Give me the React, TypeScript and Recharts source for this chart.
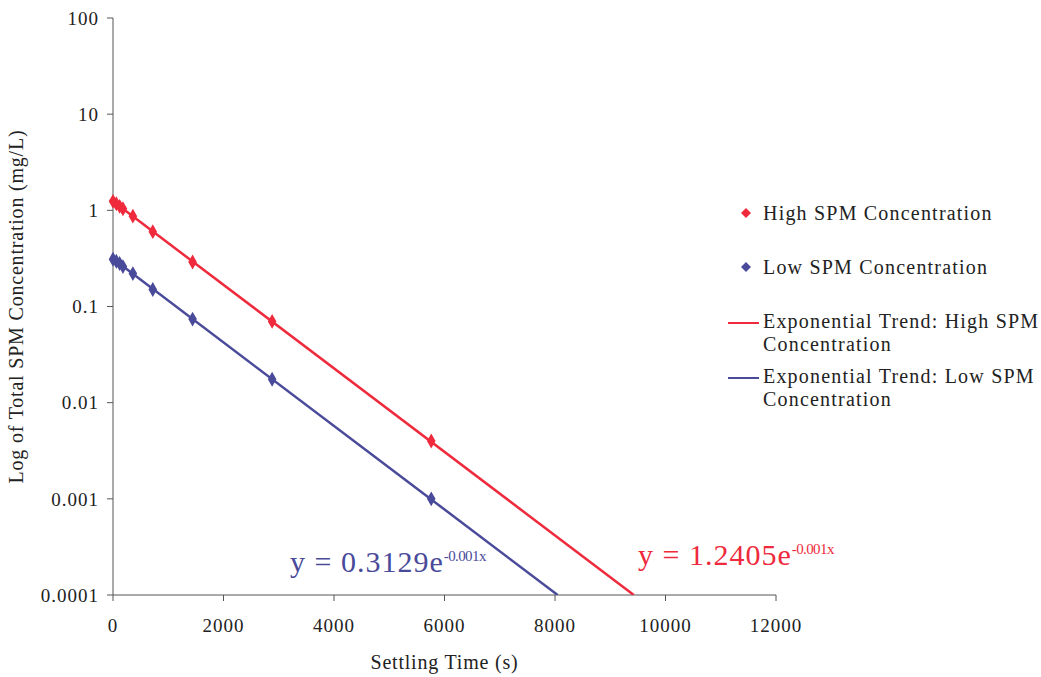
import { ScatterChart, Scatter, XAxis, YAxis } from 'recharts';

const settlingTimes = [0, 60, 120, 180, 360, 720, 1440, 2880, 5760];
const highSpm = [1.24, 1.17, 1.1, 1.04, 0.87, 0.6, 0.29, 0.07, 0.004];
const lowSpm = [0.31, 0.295, 0.28, 0.26, 0.22, 0.15, 0.074, 0.0175, 0.001];

// trend lines: start at x=0 and run to the bottom of the axis
const trendHighX = [0, 9426];
const trendHighY = [1.2405, 0.0001];
const trendLowX = [0, 8048];
const trendLowY = [0.3129, 0.0001];

const xTicks = [0, 2000, 4000, 6000, 8000, 10000, 12000];
const yTicks = [0.0001, 0.001, 0.01, 0.1, 1, 10, 100];
const yTickLabels = ['0.0001', '0.001', '0.01', '0.1', '1', '10', '100'];

const RED = '#ee2a3c';
const BLUE = '#4a4a9a';
const FONT = '"Liberation Serif", "DejaVu Serif", serif';

const highData = settlingTimes.map((x, i) => ({ x, y: highSpm[i] }));
const lowData = settlingTimes.map((x, i) => ({ x, y: lowSpm[i] }));
const highTrend = trendHighX.map((x, i) => ({ x, y: trendHighY[i] }));
const lowTrend = trendLowX.map((x, i) => ({ x, y: trendLowY[i] }));

const Diamond = ({ color }: { color: string }) => (
    <svg width={10} height={10} style={{ display: 'inline-block' }}>
        <polygon points='5,0 10,5 5,10 0,5' fill={color} />
    </svg>
);

export default function App() {
    const tickStyle = { fontSize: 19, fill: '#222', fontFamily: FONT, letterSpacing: 1 };
    const labelStyle = { fontSize: 20, fill: '#222', fontFamily: FONT, letterSpacing: 0.8 };
    return (
        <div style={{ position: 'absolute', left: 0, top: 0, width: 1041, height: 677, background: '#fff', fontFamily: FONT }}>
            <ScatterChart width={1041} height={677} margin={{ top: 18, right: 265, bottom: 0, left: 0 }}>
                <XAxis
                    type='number'
                    dataKey='x'
                    domain={[0, 12000]}
                    ticks={xTicks}
                    tickSize={6}
                    height={82}
                    stroke='#555'
                    tick={tickStyle}
                    tickMargin={18}
                    label={{ value: 'Settling Time (s)', position: 'insideBottom', offset: 8, style: { ...labelStyle, textAnchor: 'middle' } }}
                />
                <YAxis
                    type='number'
                    dataKey='y'
                    scale='log'
                    domain={[0.0001, 100]}
                    allowDataOverflow
                    ticks={yTicks}
                    tickFormatter={(v: number) => yTickLabels[yTicks.indexOf(v)] ?? String(v)}
                    width={113}
                    tickSize={6}
                    stroke='#555'
                    tick={tickStyle}
                    tickMargin={8}
                    label={{ value: 'Log of Total SPM Concentration (mg/L)', angle: -90, position: 'insideLeft', offset: 16, style: { ...labelStyle, textAnchor: 'middle' } }}
                />
                <Scatter data={highTrend} line={{ stroke: RED, strokeWidth: 2.5 }} shape={() => null} isAnimationActive={false} />
                <Scatter data={lowTrend} line={{ stroke: BLUE, strokeWidth: 2.5 }} shape={() => null} isAnimationActive={false} />
                <Scatter data={highData} fill={RED} shape='diamond' size={55} isAnimationActive={false} />
                <Scatter data={lowData} fill={BLUE} shape='diamond' size={55} isAnimationActive={false} />
            </ScatterChart>

            <div style={{ position: 'absolute', left: 290, top: 545, fontSize: 30, letterSpacing: 1, color: BLUE, whiteSpace: 'nowrap' }}>
                y = 0.3129e<sup style={{ fontSize: 15, letterSpacing: -0.6 }}>-0.001x</sup>
            </div>
            <div style={{ position: 'absolute', left: 638, top: 538, fontSize: 30, letterSpacing: 1, color: RED, whiteSpace: 'nowrap' }}>
                y = 1.2405e<sup style={{ fontSize: 15, letterSpacing: -0.6 }}>-0.001x</sup>
            </div>

            <div style={{ position: 'absolute', left: 728, top: 200, fontSize: 20, letterSpacing: 1.2, color: '#222', lineHeight: '23px' }}>
                <div style={{ display: 'flex', alignItems: 'center', height: 26 }}>
                    <span style={{ width: 35, display: 'flex', justifyContent: 'center' }}><Diamond color={RED} /></span>
                    <span>High SPM Concentration</span>
                </div>
                <div style={{ display: 'flex', alignItems: 'center', height: 26, marginTop: 28 }}>
                    <span style={{ width: 35, display: 'flex', justifyContent: 'center' }}><Diamond color={BLUE} /></span>
                    <span>Low SPM Concentration</span>
                </div>
                <div style={{ display: 'flex', alignItems: 'flex-start', marginTop: 30 }}>
                    <span style={{ width: 31, height: 2, background: RED, marginTop: 12, marginRight: 4 }} />
                    <span>Exponential Trend: High SPM<br />Concentration</span>
                </div>
                <div style={{ display: 'flex', alignItems: 'flex-start', marginTop: 9 }}>
                    <span style={{ width: 31, height: 2, background: BLUE, marginTop: 12, marginRight: 4 }} />
                    <span>Exponential Trend: Low SPM<br />Concentration</span>
                </div>
            </div>
        </div>
    );
}
